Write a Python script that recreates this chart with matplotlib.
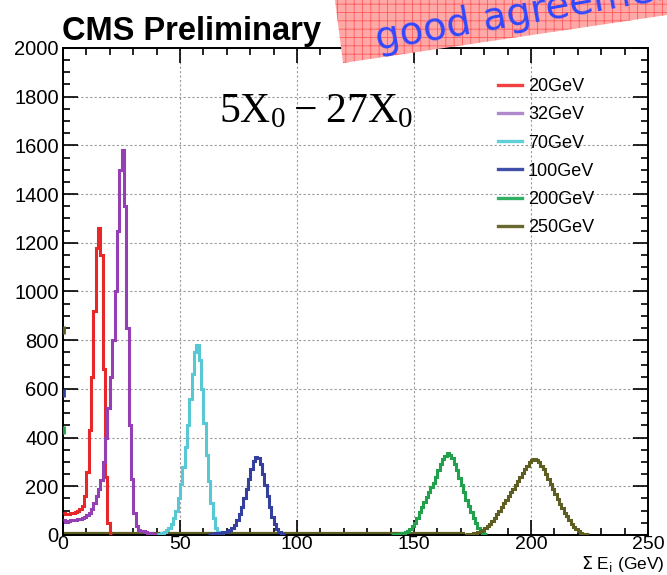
import matplotlib
matplotlib.use("Agg")
import matplotlib.pyplot as plt
import numpy as np
from matplotlib.patches import Polygon
from matplotlib.ticker import MultipleLocator

# beam energies and histogram contents (1 GeV bins)
LABELS = ["20GeV", "32GeV", "70GeV", "100GeV", "200GeV", "250GeV"]
COLORS = ["#e82828", "#9440b4", "#58c8d4", "#3440a0", "#22a04c", "#5e5e22"]
LEGEND_COLORS = ["#f04040", "#b088cc", "#60d0d8", "#4050a8", "#30b060", "#686830"]

START_20 = 0
COUNTS_20 = [90, 85, 88, 90, 92, 95, 100, 105, 120, 160, 260, 430, 650, 920,
             1180, 1260, 1150, 680, 240, 50, 5]

START_32 = 0
COUNTS_32 = [60, 55, 58, 60, 60, 62, 65, 65, 70, 75, 80, 90, 105, 130, 160,
             190, 225, 300, 400, 520, 650, 800, 1000, 1250, 1500, 1580, 1350,
             850, 450, 230, 90, 35, 22, 18, 15, 12, 10, 8, 6, 5, 4]

START_70 = 40
COUNTS_70 = [5, 6, 8, 12, 20, 30, 45, 70, 100, 150, 210, 280, 360, 450, 560,
             660, 750, 780, 720, 600, 460, 330, 220, 130, 70, 30, 12, 5, 3]

START_100 = 62
COUNTS_100 = [3, 4, 6, 8, 10, 10, 12, 14, 16, 20, 28, 40, 60, 85, 115, 150,
              190, 230, 270, 305, 320, 315, 290, 250, 205, 160, 115, 75, 45,
              25, 12, 5, 2]

START_200 = 140
COUNTS_200 = [3, 4, 5, 6, 8, 10, 14, 18, 25, 35, 50, 70, 95, 115, 135, 155,
              175, 195, 215, 240, 265, 290, 310, 325, 335, 330, 315, 290, 265,
              235, 205, 175, 145, 118, 95, 70, 48, 30, 16, 8, 4]

START_250 = 172
COUNTS_250 = [4, 5, 6, 8, 10, 13, 17, 22, 28, 36, 45, 56, 70, 85, 100, 115,
              130, 145, 160, 175, 190, 205, 220, 238, 255, 270, 285, 298, 308,
              312, 308, 298, 285, 270, 250, 230, 210, 190, 168, 148, 128, 110,
              92, 76, 60, 46, 34, 24, 16, 10, 6, 4, 2]

STARTS = [START_20, START_32, START_70, START_100, START_200, START_250]
COUNTS = [COUNTS_20, COUNTS_32, COUNTS_70, COUNTS_100, COUNTS_200, COUNTS_250]

# low flat tail left of each peak, and the lone first-bin marks on the y axis
TAIL_LEVEL = [0, 0, 4, 3, 6, 8]
FIRST_BIN = [None, None, None, 583, 431, 842]

plt.rcParams["font.family"] = ["Liberation Sans", "DejaVu Sans"]
plt.rcParams["hatch.linewidth"] = 0.6

fig = plt.figure(figsize=(6.67, 5.75), dpi=100)
ax = fig.add_axes([0.0945, 0.0696, 0.877, 0.847])

for label, color, lcolor, start, counts, tail, first in zip(
        LABELS, COLORS, LEGEND_COLORS, STARTS, COUNTS, TAIL_LEVEL, FIRST_BIN):
    edges = np.arange(start, start + len(counts) + 1)
    ax.stairs(counts, edges, baseline=None, color=color, lw=2.2, zorder=3)
    if start > 0:
        ax.hlines(tail, 0, start, color=color, lw=1.6, zorder=2)
    if first is not None:
        ax.vlines(0.4, first - 18, first + 18, color=color, lw=2.0, zorder=4)
    ax.plot([], [], color=lcolor, lw=2.4, label=label)

ax.set_xlim(0, 250)
ax.set_ylim(0, 2000)
ax.xaxis.set_major_locator(MultipleLocator(50))
ax.xaxis.set_minor_locator(MultipleLocator(10))
ax.yaxis.set_major_locator(MultipleLocator(200))
ax.yaxis.set_minor_locator(MultipleLocator(50))
ax.tick_params(which="both", direction="in", top=True, right=True,
               labelsize=14.5, width=1.2)
ax.tick_params(which="major", length=11)
ax.tick_params(which="minor", length=5)
ax.tick_params(axis="x", which="major", pad=0.5, labelsize=14)
ax.tick_params(axis="y", which="major", pad=3)
for spine in ax.spines.values():
    spine.set_linewidth(1.4)

ax.grid(True, which="major", color="#9a9a9a", lw=0.8, linestyle=(0, (2, 2)))
ax.set_axisbelow(True)

leg = ax.legend(loc="upper left", bbox_to_anchor=(0.744, 0.938), frameon=False,
                fontsize=13, handlelength=1.3, handletextpad=0.35,
                labelspacing=0.62, borderpad=0, borderaxespad=0)

ax.text(108, 1735, r"$\mathregular{5X_0 - 27X_0}$", fontsize=30,
        family="Liberation Serif", ha="center", va="center")

fig.text(665 / 667, 1 / 575, r"$\Sigma$ E$_{\rm i}$ (GeV)",
         ha="right", va="bottom", fontsize=12.5)

fig.text(62 / 667, 1 - 40 / 575, "CMS Preliminary", fontsize=23.5,
         fontweight="bold", ha="left", va="baseline")

# pink banner in the top right corner
banner = Polygon([(335 / 667, 1.0), (1.0, 1.0), (1.0, 1 - 15 / 575),
                  (343 / 667, 1 - 63 / 575)], closed=True,
                 transform=fig.transFigure, facecolor="#ffa8a8",
                 edgecolor="#ff5a5a", hatch="++", lw=0, zorder=5)
fig.patches.append(banner)
fig.text(372 / 667, 1 - 50 / 575, "good agreement", fontsize=28,
         color="#3048ff", rotation=10, ha="left", va="baseline",
         family="DejaVu Sans", zorder=6)

plt.savefig("out.png", dpi=100)
